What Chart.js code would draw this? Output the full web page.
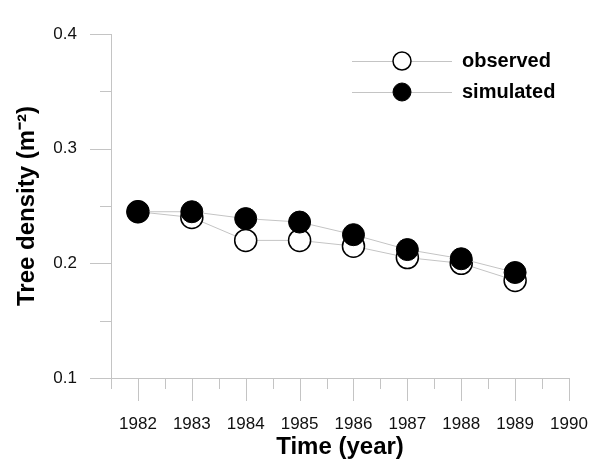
<!DOCTYPE html>
<html><head><meta charset="utf-8">
<script src="https://cdn.jsdelivr.net/npm/chart.js@4.4.1/dist/chart.umd.min.js"></script>
<style>html,body{margin:0;padding:0;background:#fff}#wrap{width:600px;height:472px}</style>
</head><body><div id="wrap"><canvas id="c" width="600" height="472"></canvas></div>
<script>
const years = [1982, 1983, 1984, 1985, 1986, 1987, 1988, 1989];
const observed = [0.245, 0.240, 0.220, 0.220, 0.215, 0.205, 0.200, 0.185];
const simulated = [0.245, 0.245, 0.239, 0.236, 0.225, 0.212, 0.204, 0.192];
const xTickLabels = [1982, 1983, 1984, 1985, 1986, 1987, 1988, 1989, 1990];
const yTickLabels = [0.1, 0.2, 0.3, 0.4];
const seriesNames = ['observed', 'simulated'];

const FONT = "'Liberation Sans', Arial, sans-serif";
const AXIS = '#c4c4c4';
const LINE = '#c4c4c4';

function noPad(s) {
  s.paddingTop = 0; s.paddingBottom = 0; s.paddingLeft = 0; s.paddingRight = 0;
}

const tickPlugin = {
  id: 'tickMarks',
  beforeDatasetsDraw(chart) {
    const ctx = chart.ctx, xs = chart.scales.x, ys = chart.scales.y;
    const x0 = xs.left, y0 = ys.bottom;
    ctx.save();
    ctx.strokeStyle = AXIS; ctx.lineWidth = 1;
    ctx.beginPath();
    for (let i = 0; i < yTickLabels.length; i++) {
      const p = Math.round(ys.getPixelForValue(yTickLabels[i])) + 0.5;
      ctx.moveTo(x0 - 21, p); ctx.lineTo(x0, p);
      if (i < yTickLabels.length - 1) {
        const m = Math.round(ys.getPixelForValue((yTickLabels[i] + yTickLabels[i + 1]) / 2)) + 0.5;
        ctx.moveTo(x0 - 11, m); ctx.lineTo(x0, m);
      }
    }
    for (let i = 0; i < xTickLabels.length; i++) {
      const p = Math.round(xs.getPixelForValue(xTickLabels[i])) + 0.5;
      ctx.moveTo(p, y0); ctx.lineTo(p, y0 + 23);
      const prev = i === 0 ? xs.min : (xTickLabels[i - 1] + xTickLabels[i]) / 2;
      const m = Math.round(xs.getPixelForValue(prev)) + 0.5;
      ctx.moveTo(m, y0); ctx.lineTo(m, y0 + 11);
    }
    ctx.stroke();
    ctx.restore();
  }
};

const legendPlugin = {
  id: 'customLegend',
  afterDraw(chart) {
    const ctx = chart.ctx;
    ctx.save();
    const rows = [61, 92];
    chart.data.datasets.forEach((ds) => {
      const y = rows[ds.legendRow];
      ctx.strokeStyle = LINE; ctx.lineWidth = 1;
      ctx.beginPath(); ctx.moveTo(352, y + 0.5); ctx.lineTo(452, y + 0.5); ctx.stroke();
      ctx.beginPath(); ctx.arc(402, y, 9, 0, Math.PI * 2);
      ctx.fillStyle = ds.pointBackgroundColor; ctx.fill();
      ctx.lineWidth = ds.pointBorderWidth; ctx.strokeStyle = ds.pointBorderColor; ctx.stroke();
      ctx.fillStyle = '#000';
      ctx.font = 'bold 20px ' + FONT;
      ctx.textBaseline = 'middle'; ctx.textAlign = 'left';
      ctx.fillText(ds.label, 462, y);
    });
    ctx.restore();
  }
};

new Chart(document.getElementById('c'), {
  type: 'line',
  data: {
    datasets: [
      {
        label: seriesNames[1], legendRow: 1, order: 0,
        data: years.map((x, i) => ({ x, y: simulated[i] })),
        borderColor: LINE, borderWidth: 1,
        pointRadius: 11, pointBackgroundColor: '#000', pointBorderColor: '#000', pointBorderWidth: 1
      },
      {
        label: seriesNames[0], legendRow: 0, order: 1,
        data: years.map((x, i) => ({ x, y: observed[i] })),
        borderColor: LINE, borderWidth: 1,
        pointRadius: 11, pointBackgroundColor: '#fff', pointBorderColor: '#000', pointBorderWidth: 1.5
      }
    ]
  },
  options: {
    responsive: false, animation: false,
    layout: { padding: { top: 34, right: 31, left: 0, bottom: 0 } },
    plugins: { legend: { display: false }, tooltip: { enabled: false } },
    scales: {
      x: {
        type: 'linear', min: 1981.5, max: 1990,
        afterBuildTicks: s => { s.ticks = xTickLabels.map(v => ({ value: v })); },
        afterFit: s => { s.height = 94; noPad(s); },
        grid: { drawOnChartArea: false, drawTicks: false },
        border: { color: AXIS, width: 1 },
        ticks: { padding: 36, color: '#111', font: { family: FONT, size: 17 }, callback: v => String(v), maxRotation: 0, autoSkip: false },
        title: { display: true, text: 'Time (year)', color: '#000', font: { family: FONT, size: 24, weight: 'bold' }, padding: { top: 0, bottom: 10.6 } }
      },
      y: {
        type: 'linear', min: 0.1, max: 0.4,
        afterBuildTicks: s => { s.ticks = yTickLabels.map(v => ({ value: v })); },
        afterFit: s => { s.width = 111; noPad(s); },
        grid: { drawOnChartArea: false, drawTicks: false },
        border: { color: AXIS, width: 1 },
        ticks: { padding: 34, color: '#111', font: { family: FONT, size: 17 }, callback: v => v.toFixed(1) },
        title: { display: true, text: 'Tree density (m\u207B\u00B2)', color: '#000', font: { family: FONT, size: 24, weight: 'bold' }, padding: { top: 12.6, bottom: 0 } }
      }
    }
  },
  plugins: [tickPlugin, legendPlugin]
});
</script></body></html>
